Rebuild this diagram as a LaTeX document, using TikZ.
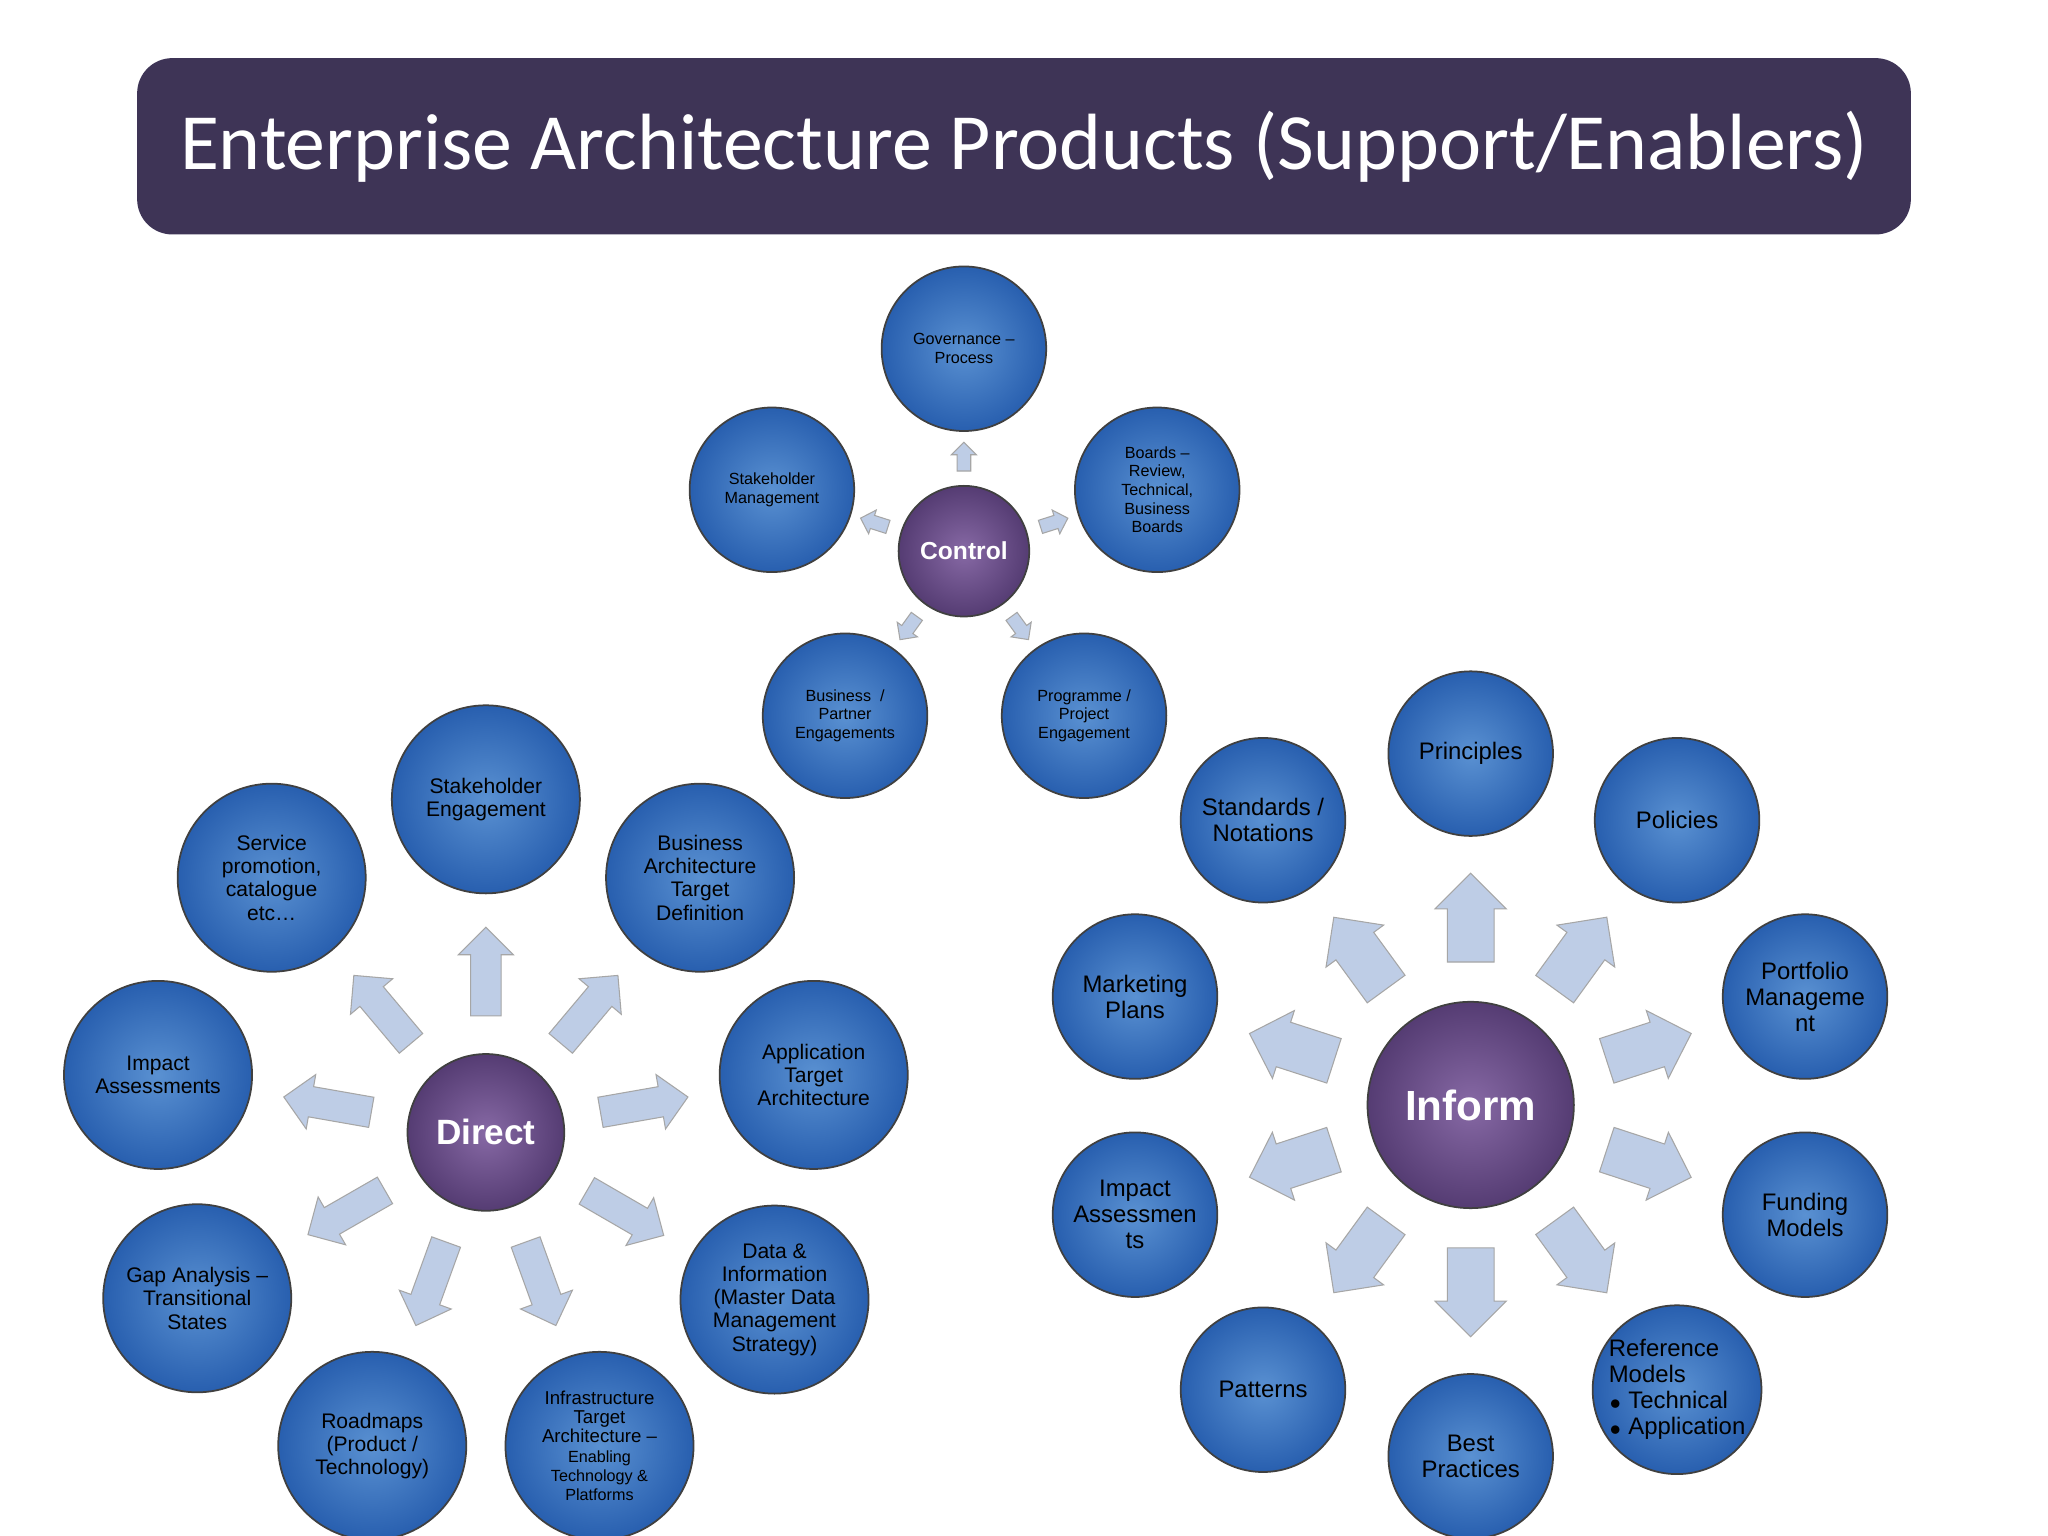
\documentclass[tikz,border=0pt]{standalone}
\usepackage{fontspec}
\setmainfont{Liberation Sans}
\newfontfamily\titlefont{Carlito}
\usetikzlibrary{shapes,shapes.arrows,calc,positioning}
\definecolor{titlebg}{RGB}{62,52,86}
\definecolor{petalin}{RGB}{90,145,210}
\definecolor{petalout}{RGB}{40,95,175}
\definecolor{hubin}{RGB}{135,105,165}
\definecolor{hubout}{RGB}{85,60,115}
\definecolor{arrowfill}{RGB}{190,205,230}
\begin{document}
\begin{tikzpicture}[x=0.013061cm,y=-0.013061cm]
\tikzstyle{every node}=[text=black, align=center, inner sep=0pt]
\tikzstyle{petal}=[circle, inner color=petalin, outer color=petalout, draw=black!75, line width=0.5pt, font=\fontsize{6}{6.6}\selectfont]
\tikzstyle{hub}=[circle, inner color=hubin, outer color=hubout, draw=black!75, line width=0.5pt, text=white, font=\bfseries]
\tikzstyle{arw}=[single arrow, fill=arrowfill, draw=black!35, line width=0.3pt]
\useasboundingbox (0,0) rectangle (1568,1176);
\fill[white] (0,0) rectangle (1568,1176);

% title
\node[fill=titlebg, rounded corners=10pt, minimum width=1358*0.013061cm, minimum height=135*0.013061cm,
  text=white, font=\titlefont\fontsize{22.7}{26}\selectfont] (title) at (784,112) {\raisebox{-2pt}{Enterprise Architecture Products (Support/Enablers)}};

% control
\node[hub, minimum size=100*0.013061cm, font=\bfseries\fontsize{7}{8}\selectfont] (ctrl) at (738,422) {Control};
\tikzstyle{cpetal}=[petal, minimum size=126*0.013061cm, font=\fontsize{4.6}{5.3}\selectfont]
\node[cpetal] (gov) at (738,267) {Governance --\\Process};
\node[cpetal] (stm) at (591,375) {Stakeholder\\Management};
\node[cpetal] (brd) at (886,375) {Boards --\\Review,\\Technical,\\Business\\Boards};
\node[cpetal] (bpe) at (647,548) {Business~~/\\Partner\\Engagements};
\node[cpetal] (ppe) at (830,548) {Programme /\\Project\\Engagement};
\foreach \q in {gov,stm,brd,bpe,ppe}
  \path let \p1=($(\q)-(ctrl)$), \n1={atan2(\y1,\x1)} in
    node[arw, rotate=\n1, minimum height=22*0.013061cm, inner sep=1.8pt, single arrow head extend=1.6pt] (a-\q) at ($(ctrl)!0.45!(\q)$) {};

% direct
\node[hub, minimum size=120*0.013061cm, font=\bfseries\fontsize{10}{12}\selectfont] (dir) at (372,867) {Direct};
\tikzstyle{dpetal}=[petal, minimum size=144*0.013061cm]
\node[dpetal] (ste) at (372,612) {Stakeholder\\Engagement};
\node[dpetal] (svc) at (208,672) {Service\\promotion,\\catalogue\\etc\dots};
\node[dpetal] (bat) at (536,672) {Business\\Architecture\\Target\\Definition};
\node[dpetal] (ima) at (121,823) {Impact\\Assessments};
\node[dpetal] (apa) at (623,823) {Application\\Target\\Architecture};
\node[dpetal] (gap) at (151,994) {Gap Analysis --\\Transitional\\States};
\node[dpetal] (dat) at (593,995) {Data \&\\Information\\(Master Data\\Management\\Strategy)};
\node[dpetal] (rdm) at (285,1107) {Roadmaps\\(Product /\\Technology)};
\node[dpetal, font=\fontsize{4.6}{5.5}\selectfont] (inf) at (459,1107) {\fontsize{5.3}{6}\selectfont Infrastructure\\\fontsize{5.3}{6}\selectfont Target\\\fontsize{5.3}{6}\selectfont Architecture --\\Enabling\\Technology \&\\Platforms};
\foreach \q in {ste,svc,bat,ima,apa,gap,dat,rdm,inf}
  \path let \p1=($(\q)-(dir)$), \n1={atan2(\y1,\x1)} in
    node[arw, rotate=\n1, minimum height=68*0.013061cm, inner sep=4.2pt, single arrow head extend=3.5pt] (a-\q) at ($(dir)!0.46!(\q)$) {};

% inform
\node[hub, minimum size=158*0.013061cm, font=\bfseries\fontsize{12}{14}\selectfont] (inf-hub) at (1126,846) {Inform};
\tikzstyle{ipetal}=[petal, minimum size=126*0.013061cm, font=\fontsize{6.8}{7.4}\selectfont]
\node[ipetal] (prn) at (1126,577) {Principles};
\node[ipetal] (std) at (967,628) {Standards /\\Notations};
\node[ipetal] (pol) at (1284,628) {Policies};
\node[ipetal] (mkt) at (869,763) {Marketing\\Plans};
\node[ipetal] (prt) at (1382,763) {Portfolio\\Manageme\\nt};
\node[ipetal] (iat) at (869,930) {Impact\\Assessmen\\ts};
\node[ipetal] (fnd) at (1382,930) {Funding\\Models};
\node[ipetal] (pat) at (967,1064) {Patterns};
\node[ipetal] (bst) at (1126,1115) {Best\\Practices};
\node[ipetal, align=left] (ref) at (1284,1064) {Reference\\Models\\{\fontsize{5}{6}\selectfont$\bullet$} Technical\\{\fontsize{5}{6}\selectfont$\bullet$} Application};
\foreach \q in {prn,std,pol,mkt,prt,iat,fnd,pat,bst,ref}
  \path let \p1=($(\q)-(inf-hub)$), \n1={atan2(\y1,\x1)} in
    node[arw, rotate=\n1, minimum height=68*0.013061cm, inner sep=6.5pt, single arrow head extend=3.5pt] (a-\q) at ($(inf-hub)!0.5!(\q)$) {};
\end{tikzpicture}
\end{document}
